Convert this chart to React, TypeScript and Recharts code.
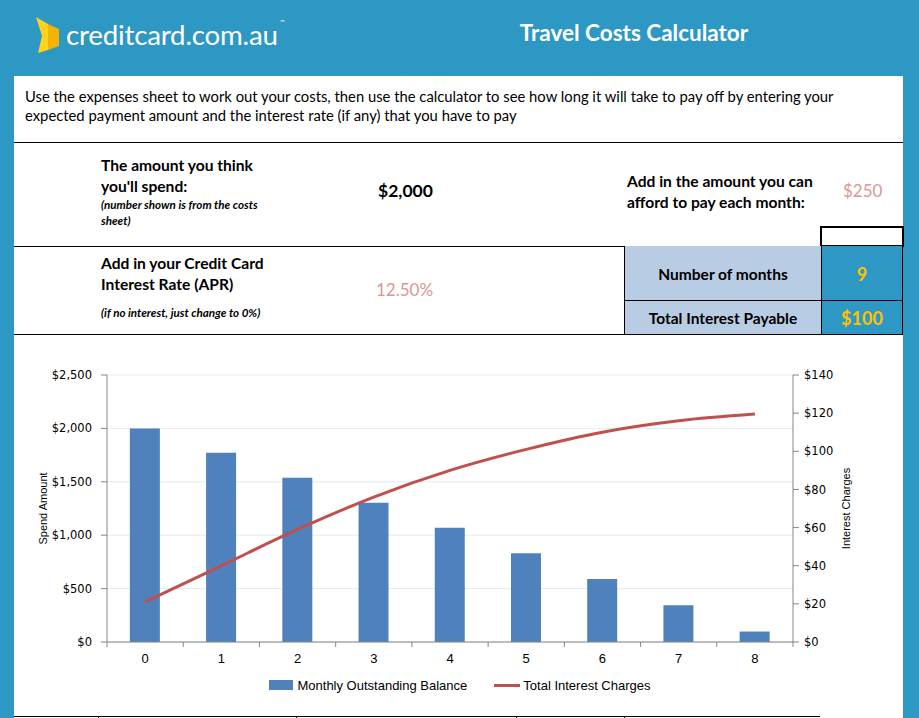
import React from "react";
import { ComposedChart, Bar, Line, XAxis, YAxis, CartesianGrid, Legend } from "recharts";

const months = ["0", "1", "2", "3", "4", "5", "6", "7", "8"];
const balance = [2000, 1771, 1539, 1305, 1069, 830, 589, 345, 98];
const interest = [21, 40, 59, 76, 90, 101, 110, 116, 119.5];
const spendTicks = [0, 500, 1000, 1500, 2000, 2500];
const interestTicks = [0, 20, 40, 60, 80, 100, 120, 140];

const data = months.map((m, i) => ({ month: m, balance: balance[i], interest: interest[i] }));

const BLUE = "#2e98c5";
const AXIS = "#868686";
const TEXT_FONT = "Lato, 'Open Sans', sans-serif";
const CHART_FONT = "'DejaVu Sans', Verdana, sans-serif";
const NARROW = "'Liberation Sans', Arial, sans-serif";

const money = (v: number) => "$" + v.toLocaleString("en-US");

// text placed by its vertical centre
function T({ x, y, center, style, children }: any) {
  return (
    <div
      style={{
        position: "absolute",
        left: x,
        top: y,
        transform: center ? "translate(-50%, -50%)" : "translateY(-50%)",
        whiteSpace: "nowrap",
        fontFamily: TEXT_FONT,
        color: "#000",
        ...style,
      }}
    >
      {children}
    </div>
  );
}

function Rule({ x, y, w, h }: any) {
  return <div style={{ position: "absolute", left: x, top: y, width: w, height: h, background: "#000" }} />;
}

function MonthTick(props: any) {
  const { x, y, payload, index } = props;
  const half = payload && payload.offset != null ? payload.offset : 38;
  const top = y - 8;
  return (
    <g>
      <line x1={x - half} x2={x - half} y1={top} y2={top + 5} stroke={AXIS} />
      {index === months.length - 1 && <line x1={x + half} x2={x + half} y1={top} y2={top + 5} stroke={AXIS} />}
      <text x={x} y={y + 13} textAnchor="middle" fill="#000" fontSize={13} fontFamily={NARROW}>
        {payload.value}
      </text>
    </g>
  );
}

function LegendBox(props: any) {
  const items = props.payload || [];
  return (
    <div style={{ display: "flex", justifyContent: "center", alignItems: "center", height: 18, paddingLeft: 25, fontFamily: NARROW, fontSize: 13, color: "#000" }}>
      {items.map((it: any, i: number) => (
        <div key={it.value} style={{ display: "flex", alignItems: "center", marginLeft: i > 0 ? 27 : 0 }}>
          {it.type === "line" ? (
            <div style={{ width: 26, height: 3, background: it.color, marginRight: 3 }} />
          ) : (
            <div style={{ width: 24, height: 10, background: it.color, marginRight: 4 }} />
          )}
          <span>{it.value}</span>
        </div>
      ))}
    </div>
  );
}

function AxisTitle(text: string, dx: number) {
  return (p: any) => {
    const vb = p.viewBox || {};
    const cx = vb.x + dx;
    const cy = vb.y + vb.height / 2;
    return (
      <text x={cx} y={cy} transform={`rotate(-90 ${cx} ${cy})`} textAnchor="middle" dominantBaseline="central" fontSize={11} fontFamily="'Liberation Sans', Arial, sans-serif" fill="#000">
        {text}
      </text>
    );
  };
}

export default function App() {
  return (
    <div style={{ position: "absolute", left: 0, top: 0, width: 919, height: 718, background: BLUE, overflow: "hidden" }}>
      {/* header */}
      <svg style={{ position: "absolute", left: 0, top: 0 }} width={70} height={60}>
        <polygon points="36,17 48,24 48,50 38,53 42,36" fill="#ffd21f" />
        <polygon points="48,24 59,29 59,46 48,50" fill="#f4b400" />
      </svg>
      <T x={66} y={34} style={{ color: "#fff", fontSize: 27.7, letterSpacing: -0.2 }}>
        creditcard.com.au<span style={{ fontSize: 6, verticalAlign: "top", marginLeft: 2 }}>™</span>
      </T>
      <T x={634} y={32} center style={{ color: "#fff", fontSize: 22.5, fontWeight: 700 }}>
        Travel Costs Calculator
      </T>

      {/* sheet */}
      <div style={{ position: "absolute", left: 14, top: 76, width: 889, height: 642, background: "#fff" }} />
      <T x={25} y={96} style={{ fontSize: 14.8 }}>
        Use the expenses sheet to work out your costs, then use the calculator to see how long it will take to pay off by entering your
      </T>
      <T x={25} y={115} style={{ fontSize: 14.8 }}>
        expected payment amount and the interest rate (if any) that you have to pay
      </T>
      <Rule x={14} y={142} w={889} h={1} />

      <T x={101} y={165} style={{ fontSize: 15.6, fontWeight: 700 }}>The amount you think</T>
      <T x={101} y={186} style={{ fontSize: 15.6, fontWeight: 700 }}>you'll spend:</T>
      <T x={101} y={204} style={{ fontSize: 11.6, fontWeight: 700, fontStyle: "italic" }}>(number shown is from the costs</T>
      <T x={101} y={220} style={{ fontSize: 11.6, fontWeight: 700, fontStyle: "italic" }}>sheet)</T>
      <T x={378} y={190} style={{ fontSize: 17.5, fontWeight: 700 }}>$2,000</T>
      <T x={627} y={181} style={{ fontSize: 15.6, fontWeight: 700 }}>Add in the amount you can</T>
      <T x={627} y={202} style={{ fontSize: 15.6, fontWeight: 700 }}>afford to pay each month:</T>
      <T x={843} y={190} style={{ fontSize: 17, color: "#da9694" }}>$250</T>
      <div style={{ position: "absolute", left: 820, top: 226, width: 80, height: 17, border: "2px solid #000" }} />
      <Rule x={14} y={246} w={889} h={1} />

      <T x={101} y={263} style={{ fontSize: 15.6, fontWeight: 700 }}>Add in your Credit Card</T>
      <T x={101} y={284} style={{ fontSize: 15.6, fontWeight: 700 }}>Interest Rate (APR)</T>
      <T x={101} y={312} style={{ fontSize: 11.6, fontWeight: 700, fontStyle: "italic" }}>(if no interest, just change to 0%)</T>
      <T x={376} y={289} style={{ fontSize: 17, color: "#da9694" }}>12.50%</T>

      <div style={{ position: "absolute", left: 624, top: 246, width: 197, height: 88, background: "#b8cce4" }} />
      <div style={{ position: "absolute", left: 821, top: 246, width: 82, height: 88, background: BLUE }} />
      <Rule x={624} y={246} w={1} h={88} />
      <Rule x={821} y={246} w={1} h={88} />
      <Rule x={902} y={246} w={1} h={88} />
      <Rule x={624} y={300} w={279} h={1} />
      <T x={723} y={274} center style={{ fontSize: 15.5, fontWeight: 700 }}>Number of months</T>
      <T x={862} y={274} center style={{ fontSize: 18, fontWeight: 700, color: "#ffc000" }}>9</T>
      <T x={723} y={318} center style={{ fontSize: 15.5, fontWeight: 700 }}>Total Interest Payable</T>
      <T x={862} y={318} center style={{ fontSize: 18, fontWeight: 700, color: "#ffc000" }}>$100</T>
      <Rule x={14} y={334} w={889} h={1} />

      {/* chart */}
      <div style={{ position: "absolute", left: 14, top: 340 }}>
        <ComposedChart width={880} height={370} data={data} margin={{ top: 35, right: 21, bottom: 16, left: 8 }} barCategoryGap="30%">
          <CartesianGrid yAxisId="spend" vertical={false} stroke="#e0ecf4" />
          <XAxis dataKey="month" height={34} stroke={AXIS} tickLine={false} tickSize={6} tickMargin={2} tick={<MonthTick />} interval={0} />
          <YAxis
            yAxisId="spend"
            width={85}
            domain={[0, 2500]}
            ticks={spendTicks}
            tickFormatter={money}
            stroke={AXIS}
            tickSize={6}
            tickMargin={9}
            tick={{ fill: "#000", fontSize: 11.5, fontFamily: CHART_FONT }}
            label={{ content: AxisTitle("Spend Amount", 21) }}
          />
          <YAxis
            yAxisId="charges"
            orientation="right"
            width={80}
            domain={[0, 140]}
            ticks={interestTicks}
            tickFormatter={money}
            stroke={AXIS}
            tickSize={6}
            tickMargin={5}
            tick={{ fill: "#000", fontSize: 11.5, fontFamily: CHART_FONT }}
            label={{ content: AxisTitle("Interest Charges", 53) }}
          />
          <Legend verticalAlign="bottom" content={<LegendBox />} />
          <Bar yAxisId="spend" dataKey="balance" name="Monthly Outstanding Balance" fill="#4f81bd" legendType="rect" isAnimationActive={false} />
          <Line yAxisId="charges" dataKey="interest" name="Total Interest Charges" type="monotone" stroke="#c0504d" strokeWidth={3} dot={false} legendType="line" isAnimationActive={false} />
        </ComposedChart>
      </div>

      {/* bottom sheet rule */}
      <Rule x={14} y={716} w={806} h={1} />
      {[98, 296, 516, 624].map((x) => (
        <Rule key={x} x={x} y={716} w={1} h={2} />
      ))}
    </div>
  );
}
